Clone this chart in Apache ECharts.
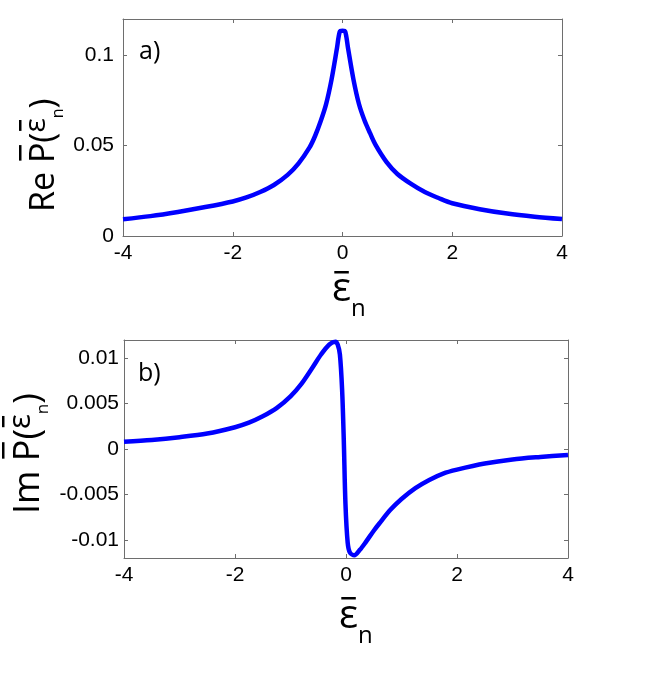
<!DOCTYPE html>
<html>
<head>
<meta charset="utf-8">
<script src="https://cdn.jsdelivr.net/npm/echarts@6/dist/echarts.min.js"></script>
<style>
  html, body { margin: 0; padding: 0; background: #fff; }
  #chart { width: 664px; height: 687px; }
</style>
</head>
<body>
<div id="chart"></div>
<script>
// a) Re P(eps_n)
const reX = [-4, -3.5, -3, -2.5, -2, -1.75, -1.5, -1.25, -1, -0.8, -0.6, -0.5, -0.4, -0.3, -0.2, -0.1, -0.05,
  0, 0.05, 0.1, 0.2, 0.3, 0.4, 0.5, 0.6, 0.8, 1, 1.25, 1.5, 1.75, 2, 2.5, 3, 3.5, 4]
const reY = [0.0093, 0.0110, 0.0133, 0.0160, 0.0191, 0.0213, 0.0243, 0.0282, 0.0338, 0.0402, 0.0490, 0.0553, 0.0633, 0.0728, 0.0865, 0.1040, 0.1130,
  0.1135, 0.1130, 0.1040, 0.0865, 0.0730, 0.0640, 0.0570, 0.0505, 0.0410, 0.0343, 0.0288, 0.0243, 0.0210, 0.0181, 0.0148, 0.0124, 0.0107, 0.0094]

// b) Im P(eps_n)
const imX = [-4, -3.5, -3, -2.5, -2, -1.75, -1.5, -1.25, -1, -0.8, -0.6, -0.45, -0.3, -0.19, -0.15, -0.11, -0.07, -0.04, -0.01,
  0.03, 0.07, 0.15, 0.25, 0.35, 0.5, 0.6, 0.8, 1, 1.25, 1.5, 1.75, 2, 2.5, 3, 3.5, 4]
const imY = [0.0008, 0.0010, 0.0013, 0.0017, 0.0024, 0.0029, 0.0036, 0.0045, 0.0058, 0.0072, 0.0090, 0.0104, 0.0115, 0.0118, 0.0115, 0.0104, 0.0065, 0.0010, -0.0060,
  -0.0103, -0.0114, -0.0117, -0.0111, -0.0103, -0.0090, -0.0082, -0.0067, -0.0055, -0.0043, -0.0034, -0.0027, -0.00227, -0.0016, -0.00115, -0.00088, -0.00066]

const xTicks = [-4, -2, 0, 2, 4]
const reTicks = [0, 0.05, 0.1]
const imTicks = [-0.01, -0.005, 0, 0.005, 0.01]

const tickFont = 'Liberation Sans'
const tickSize = 21

const mctx = document.createElement('canvas').getContext('2d')
function textW(t, size) {
  mctx.font = size + 'px "Open Sans"'
  return mctx.measureText(t).width
}

// text pieces laid next to each other, dy = baseline shift, bar = overline
function mathLabel(x0, y0, rot, parts, barY) {
  const children = []
  let cx = 0
  parts.forEach(p => {
    const w = textW(p.t, p.size)
    children.push({
      type: 'text', x: cx, y: (p.dy || 0) + 0.11 * p.size,
      style: {
        text: p.t, font: p.size + 'px "Open Sans"', fill: '#000',
        textAlign: 'left', textVerticalAlign: 'bottom', align: 'left', verticalAlign: 'bottom'
      }
    })
    if (p.bar) {
      children.push({
        type: 'rect', shape: { x: cx + w * 0.12, y: barY, width: w * 0.76, height: 2.5 },
        style: { fill: '#000' }
      })
    }
    cx += w
  })
  return { type: 'group', x: x0, y: y0, rotation: rot, children: children }
}

const lineCol = '#6e6e6e'

function fmt(ticks) {
  return v => ticks.some(t => Math.abs(t - v) < 1e-9) ? String(parseFloat(v.toFixed(4))) : ''
}

function xAxes(grid) {
  const base = {
    type: 'value', gridIndex: grid, min: -4, max: 4, interval: 2,
    axisLine: { show: true, onZero: false, lineStyle: { color: lineCol, width: 1 } },
    axisTick: { show: true, inside: true, length: 4, lineStyle: { color: lineCol } },
    splitLine: { show: false }
  }
  return [
    Object.assign({}, base, {
      position: 'bottom',
      axisLabel: { margin: 7, color: '#000', fontFamily: tickFont, fontSize: tickSize, formatter: fmt(xTicks) }
    }),
    Object.assign({}, base, { position: 'top', axisLabel: { show: false } })
  ]
}

function yAxes(grid, min, max, split, ticks, margin) {
  const base = {
    type: 'value', gridIndex: grid, min: min, max: max, splitNumber: split,
    axisLine: { show: true, onZero: false, lineStyle: { color: lineCol, width: 1 } },
    axisTick: { show: true, inside: true, length: 4, lineStyle: { color: lineCol } },
    splitLine: { show: false }
  }
  return [
    Object.assign({}, base, {
      position: 'left',
      axisLabel: { margin: margin, color: '#000', fontFamily: tickFont, fontSize: tickSize, formatter: fmt(ticks),
        showMinLabel: true, showMaxLabel: true }
    }),
    Object.assign({}, base, { position: 'right', axisLabel: { show: false } })
  ]
}

const chart = echarts.init(document.getElementById('chart'), null, { renderer: 'canvas' })

const lineStyle = { color: '#0000ff', width: 4.5 }

chart.setOption({
  animation: false,
  backgroundColor: '#fff',
  grid: [
    { left: 123, top: 19, width: 439, height: 217 },
    { left: 124, top: 340, width: 444, height: 218 }
  ],
  xAxis: xAxes(0).concat(xAxes(1)),
  yAxis: yAxes(0, 0, 0.12, 2, reTicks, 9).concat(yAxes(1, -0.012, 0.012, 5, imTicks, 5)),
  series: [
    {
      name: 'Re', type: 'line', xAxisIndex: 0, yAxisIndex: 0,
      data: reX.map((x, i) => [x, reY[i]]),
      showSymbol: false, smooth: 0.3, lineStyle: lineStyle
    },
    {
      name: 'Im', type: 'line', xAxisIndex: 2, yAxisIndex: 2,
      data: imX.map((x, i) => [x, imY[i]]),
      showSymbol: false, smooth: 0.3, lineStyle: lineStyle
    }
  ],
  graphic: [
    // y labels (rotated)
    mathLabel(58, 212, Math.PI / 2, [
      { t: 'Re ', size: 34 }, { t: 'P', size: 34, bar: true }, { t: '(', size: 34 },
      { t: 'ε', size: 30, dy: -10, bar: true }, { t: 'n', size: 16, dy: 7 }, { t: ')', size: 34 }
    ], -39),
    mathLabel(43, 514, Math.PI / 2, [
      { t: 'Im ', size: 36 }, { t: 'P', size: 36, bar: true }, { t: '(', size: 36 },
      { t: 'ε', size: 31, dy: -10, bar: true }, { t: 'n', size: 17, dy: 7 }, { t: ')', size: 36 }
    ], -41),
    // x labels
    mathLabel(332, 305, 0, [
      { t: 'ε', size: 40, bar: true }, { t: 'n', size: 24, dy: 14 }
    ], -34),
    mathLabel(339, 632, 0, [
      { t: 'ε', size: 40, bar: true }, { t: 'n', size: 24, dy: 14 }
    ], -35),
    // panel tags
    mathLabel(139, 62, 0, [{ t: 'a)', size: 25 }], 0),
    mathLabel(138, 384, 0, [{ t: 'b)', size: 25 }], 0)
  ]
})
</script>
</body>
</html>
